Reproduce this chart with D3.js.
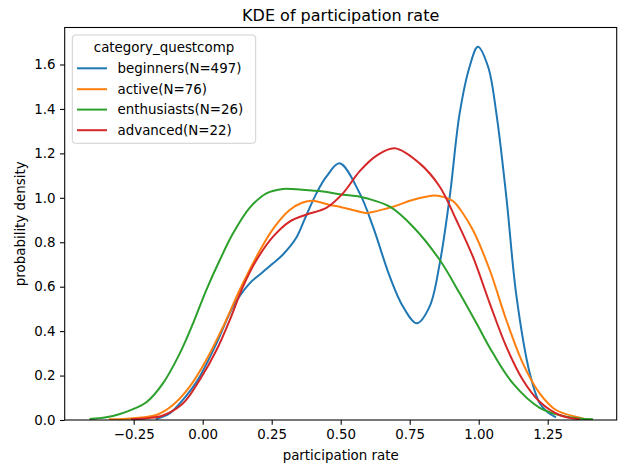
<!DOCTYPE html>
<html>
<head>
<meta charset="utf-8">
<script src="https://cdn.jsdelivr.net/npm/d3@7"></script>
<style>
  html, body { margin: 0; padding: 0; background: #fff; }
  svg { display: block; font-family: "DejaVu Sans", sans-serif; }
</style>
</head>
<body>
<svg id="chart" width="620" height="465"></svg>
<script>
// Kernel density estimates of participation rate per questcomp category
const categories = ["beginners(N=497)", "active(N=76)", "enthusiasts(N=26)", "advanced(N=22)"];
const colors = ["#1f77b4", "#ff7f0e", "#2ca02c", "#d62728"];

const beginnersX = [-0.17, -0.12, -0.083, -0.04, -0.011, 0.05, 0.11, 0.17, 0.219, 0.255, 0.291, 0.339, 0.375, 0.412, 0.448, 0.496, 0.569, 0.617, 0.678, 0.726, 0.776, 0.822, 0.859, 0.895, 0.931, 0.967, 0.997, 1.034, 1.064, 1.10, 1.137, 1.185, 1.221, 1.25, 1.28];
const beginnersY = [0.004, 0.03, 0.075, 0.14, 0.195, 0.345, 0.51, 0.615, 0.667, 0.705, 0.745, 0.82, 0.92, 1.02, 1.095, 1.155, 1.02, 0.87, 0.645, 0.51, 0.435, 0.51, 0.706, 1.005, 1.38, 1.59, 1.68, 1.59, 1.38, 1.005, 0.555, 0.21, 0.075, 0.035, 0.012];

const activeX = [-0.34, -0.25, -0.168, -0.108, -0.047, 0.013, 0.074, 0.134, 0.195, 0.255, 0.315, 0.36, 0.40, 0.46, 0.496, 0.569, 0.593, 0.69, 0.76, 0.841, 0.875, 0.907, 0.94, 0.979, 1.04, 1.10, 1.16, 1.221, 1.28, 1.366, 1.385];
const activeY = [0.003, 0.008, 0.0225, 0.0675, 0.15, 0.27, 0.42, 0.585, 0.735, 0.86, 0.945, 0.978, 0.987, 0.968, 0.96, 0.937, 0.932, 0.96, 0.99, 1.01, 1.003, 0.985, 0.935, 0.855, 0.675, 0.45, 0.255, 0.12, 0.045, 0.01, 0.003];

const enthusiastsX = [-0.41, -0.35, -0.30, -0.25, -0.204, -0.144, -0.083, -0.035, 0.013, 0.062, 0.11, 0.17, 0.231, 0.291, 0.36, 0.436, 0.496, 0.569, 0.593, 0.678, 0.762, 0.859, 0.931, 0.992, 1.052, 1.124, 1.221, 1.318, 1.414];
const enthusiastsY = [0.004, 0.012, 0.027, 0.05, 0.08, 0.165, 0.30, 0.435, 0.585, 0.72, 0.84, 0.955, 1.02, 1.04, 1.036, 1.028, 1.016, 1.005, 0.998, 0.96, 0.87, 0.72, 0.57, 0.435, 0.30, 0.165, 0.055, 0.015, 0.003];

const advancedX = [-0.26, -0.2, -0.144, -0.071, -0.011, 0.05, 0.098, 0.146, 0.195, 0.255, 0.315, 0.376, 0.448, 0.508, 0.569, 0.63, 0.696, 0.786, 0.859, 0.919, 0.979, 1.04, 1.10, 1.16, 1.221, 1.293, 1.366];
const advancedY = [0.003, 0.008, 0.02, 0.075, 0.18, 0.315, 0.45, 0.60, 0.72, 0.825, 0.893, 0.925, 0.955, 1.02, 1.12, 1.19, 1.223, 1.155, 1.05, 0.90, 0.735, 0.525, 0.33, 0.18, 0.082, 0.0225, 0.003];

const xTicks = [-0.25, 0, 0.25, 0.5, 0.75, 1.0, 1.25];
const xTickLabels = ["\u22120.25", "0.00", "0.25", "0.50", "0.75", "1.00", "1.25"];
const yTicks = [0, 0.2, 0.4, 0.6, 0.8, 1.0, 1.2, 1.4, 1.6];
const yTickLabels = ["0.0", "0.2", "0.4", "0.6", "0.8", "1.0", "1.2", "1.4", "1.6"];

const seriesX = [beginnersX, activeX, enthusiastsX, advancedX];
const seriesY = [beginnersY, activeY, enthusiastsY, advancedY];
const series = categories.map((name, i) => ({
  name, color: colors[i],
  points: seriesX[i].map((x, j) => ({ x, y: seriesY[i][j] }))
}));

const svg = d3.select("#chart");
const plotLeft = 64.7, plotRight = 616.7, plotTop = 27.5, plotBottom = 420;

const x = d3.scaleLinear().domain([-0.5, 1.5]).range([plotLeft, plotRight]);
const y = d3.scaleLinear().domain([0, 1.7665]).range([plotBottom, plotTop]);

const line = d3.line()
  .x(d => x(d.x))
  .y(d => y(d.y))
  .curve(d3.curveCatmullRom.alpha(0.5));

// plotting region
svg.append("clipPath").attr("id", "plotclip")
  .append("rect").attr("x", plotLeft).attr("y", plotTop)
  .attr("width", plotRight - plotLeft).attr("height", plotBottom - plotTop);

svg.append("g").attr("clip-path", "url(#plotclip)")
  .selectAll("path").data(series).join("path")
  .attr("d", d => line(d.points))
  .attr("fill", "none")
  .attr("stroke", d => d.color)
  .attr("stroke-width", 2)
  .attr("stroke-linejoin", "round")
  .attr("stroke-linecap", "butt");

// axes
const xAxis = d3.axisBottom(x).tickValues(xTicks)
  .tickFormat((d, i) => xTickLabels[i]).tickSize(4.7).tickPadding(4.5);
const yAxis = d3.axisLeft(y).tickValues(yTicks)
  .tickFormat((d, i) => yTickLabels[i]).tickSize(4.7).tickPadding(4.5);

const gx = svg.append("g").attr("transform", `translate(0,${plotBottom})`).call(xAxis);
const gy = svg.append("g").attr("transform", `translate(${plotLeft},0)`).call(yAxis);
[gx, gy].forEach(g => {
  g.select(".domain").remove();
  g.selectAll(".tick line").attr("stroke", "#000").attr("stroke-width", 1.07);
  g.selectAll(".tick text").attr("fill", "#000")
    .style("font-family", "DejaVu Sans").style("font-size", "13.4px");
});

// spines
svg.append("rect")
  .attr("x", plotLeft).attr("y", plotTop)
  .attr("width", plotRight - plotLeft).attr("height", plotBottom - plotTop)
  .attr("fill", "none").attr("stroke", "#000").attr("stroke-width", 1.07);

// titles
svg.append("text")
  .attr("x", (plotLeft + plotRight) / 2).attr("y", 20.5)
  .attr("text-anchor", "middle")
  .style("font-size", "16px").attr("fill", "#000")
  .text("KDE of participation rate");

svg.append("text")
  .attr("x", (plotLeft + plotRight) / 2).attr("y", 460)
  .attr("text-anchor", "middle")
  .style("font-size", "13.4px").attr("fill", "#000")
  .text("participation rate");

svg.append("text")
  .attr("transform", `translate(25,${(plotTop + plotBottom) / 2}) rotate(-90)`)
  .attr("text-anchor", "middle")
  .style("font-size", "13.4px").attr("fill", "#000")
  .text("probability density");

// legend
const lg = svg.append("g");
lg.append("rect")
  .attr("x", 72.3).attr("y", 35).attr("width", 183.4).attr("height", 108.3)
  .attr("rx", 3).attr("ry", 3)
  .attr("fill", "#fff").attr("fill-opacity", 0.8)
  .attr("stroke", "#d0d0d0").attr("stroke-width", 1);
lg.append("text")
  .attr("x", 164).attr("y", 52)
  .attr("text-anchor", "middle")
  .style("font-size", "13.4px").attr("fill", "#000")
  .text("category_questcomp");
const rowY = [68.3, 89.2, 109.6, 130.2];
const items = lg.selectAll("g.item").data(series).join("g")
  .attr("class", "item")
  .attr("transform", (d, i) => `translate(0,${rowY[i]})`);
items.append("line")
  .attr("x1", 77).attr("x2", 107).attr("y1", 0).attr("y2", 0)
  .attr("stroke", d => d.color).attr("stroke-width", 2);
items.append("text")
  .attr("x", 117.5).attr("y", 0).attr("dy", "0.36em")
  .style("font-size", "13.4px").attr("fill", "#000")
  .text(d => d.name);
</script>
</body>
</html>
